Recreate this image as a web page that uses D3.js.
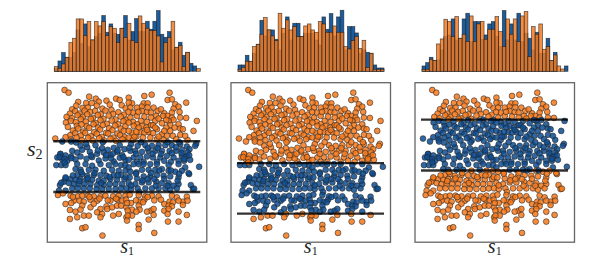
<!DOCTYPE html>
<html>
<head>
<meta charset="utf-8">
<script src="https://cdnjs.cloudflare.com/ajax/libs/d3/7.8.5/d3.min.js"></script>
<style>
    body { margin: 0; background: #fff; }
    svg { display: block; }
    text { font-family: "Liberation Serif", serif; fill: #222; }
</style>
</head>
<body>
<script>
// samples, [s1, s2], no units on the original so 0-480 is just the frame
const samples = [
    [52,458],[64,450],[126,438],[93,422],[117,419],[146,432],[155,423],[178,426],[207,432],[218,428],[188,414],[87,411],[75,400],[106,404],[122,405],[134,419],[149,411],[166,402],[193,398],[224,412],[236,403],[68,387],[84,394],[97,387],[112,396],[129,392],[144,395],[161,385],[175,396],[198,386],[214,391],[231,384],[58,377],[74,373],[91,382],[107,377],[120,385],[137,374],[152,383],[169,371],[185,381],[205,369],[221,378],[237,368],[56,360],[71,365],[86,361],[101,370],[116,363],[131,371],[146,358],[160,367],[179,356],[194,366],[213,355],[229,364],[62,347],[89,350],[103,354],[119,349],[139,355],[153,345],[167,352],[186,343],[204,351],[221,342],[235,349],[77,336],[93,342],[108,333],[126,344],[141,331],[159,339],[177,329],[196,337],[211,327],[230,335],[69,322],[84,328],[101,321],[114,329],[131,319],[149,326],[164,317],[183,327],[199,315],[219,322],[233,316],[24,312],[55,316],[71,309],[88,315],[104,307],[123,314],[137,306],[156,313],[171,306],[190,311],[207,305],[226,310],
    [75,275],[100,290],[120,286],[145,292],[165,283],[182,278],[200,284],[218,292],[232,280],[40,265],[45,250],[72,258],[90,270],[105,278],[128,272],[150,266],[170,270],[190,262],[210,272],[225,262],[85,249],[100,258],[118,251],[135,256],[155,246],[175,252],[200,243],[218,254],[235,247],[60,245],[30,255],[192,252],
    [368,450],[314,444],[292,440],[245,435],[362,428],[375,430],[418,420],[385,415],[395,408],[290,418],[302,418],[255,418],[245,420],[284,408],[320,405],[332,395],[380,402],[270,405],[250,405],[398,392],[375,390],[352,388],[285,395],[300,392],[258,390],[244,392],[312,390],[362,380],[348,380],[418,374],[400,375],[375,375],[328,380],[270,380],[250,375],[292,378],[312,375],[450,365],[380,368],[365,365],[282,365],[300,362],[325,365],[258,362],[245,360],[270,355],[312,352],[370,352],[395,355],[358,345],[330,340],[285,350],[260,350],[298,345],[400,342],[370,335],[280,332],[305,332],[292,330],[255,330],[318,328],[245,335],[345,325],[400,323],[378,320],[360,320],[268,318],[288,315],[310,315],[245,315],[330,310],[422,308],[258,308],[350,308],
    [342,400],[358,368],[335,372],[318,352],[345,358],[300,338],[275,345],[262,318],[335,318],[352,335],[383,345],[388,310],[408,340],[415,320],[440,335],[274,392],[302,406],[325,345],[268,332],
    [448,296],[252,295],[272,290],[295,292],[315,290],[335,292],[355,292],[375,292],[400,295],[420,288],[428,280],[250,275],[265,275],[285,272],[305,275],[325,275],[345,275],[368,275],[388,275],[405,278],[260,255],[280,255],[300,258],[318,255],[340,255],[360,260],[380,255],[405,260],[420,260],[245,248],[270,242],[290,242],[330,242],[352,245],[372,242],[395,245],[412,245],[430,248],
    [45,303],[39,266],[37,256],[55,261],[72,253],[52,251],[72,303],[87,300],[117,296],[167,301],[152,276],[132,261],[177,262],[197,266],[212,276],[229,256],[247,284],[267,266],[282,301],[302,283],[317,266],[332,283],[342,266],[362,301],[375,268],[387,286],[404,268],[422,270],[445,290],[397,301],[412,251],[427,262],
    [27,232],[42,232],[55,232],[90,235],[115,235],[135,230],[160,235],[185,232],[205,235],[222,232],[235,232],[85,220],[100,218],[125,218],[145,218],[170,215],[195,218],[215,215],[235,215],[105,205],[90,202],[120,200],[140,202],[160,202],[178,200],[200,202],[222,202],[55,192],[70,190],[85,188],[100,190],[118,188],[135,188],[155,185],[170,185],[190,190],[210,188],[232,190],[50,182],[65,178],[80,175],[95,175],[112,175],[130,175],[150,172],[170,172],[188,175],[205,175],[225,175],[38,172],[75,162],[92,162],[110,162],[128,162],[148,160],[165,160],[185,160],[205,160],[222,162],[238,162],[35,155],[55,155],
    [52,240],[102,211],[77,201],[42,179],[55,195],[97,184],[122,192],[142,208],[162,178],[187,196],[212,201],[237,196],
    [32,142],[70,140],[92,138],[105,140],[122,140],[140,138],[160,138],[175,140],[198,138],[215,140],[235,140],[80,125],[97,125],[110,122],[72,118],[55,115],[130,128],[150,125],[190,125],[212,128],[225,125],[105,110],[130,105],[178,108],[195,105],[210,110],[222,110],[68,97],[85,92],[100,98],[160,100],[180,100],[238,105],[150,90],[165,85],[215,85],[198,80],[110,80],[125,80],[90,75],[68,70],[160,75],[238,75],[105,42],[115,45],[166,20],
    [77,136],[127,136],[157,131],[182,126],[207,131],[237,128],[47,147],[140,116],
    [457,227],[245,225],[260,235],[275,235],[290,235],[310,235],[330,235],[365,232],[395,235],[415,225],[405,215],[427,205],[250,212],[268,210],[285,218],[305,218],[325,218],[345,220],[365,215],[385,212],[270,192],[248,195],[290,198],[310,198],[330,202],[350,200],[370,198],[395,195],[432,172],[438,160],[245,178],[265,175],[285,180],[305,180],[328,182],[345,178],[365,178],[395,175],[380,170],[252,160],[272,162],[295,162],[315,162],[335,162],[355,162],[370,158],[390,162],
    [267,206],[287,186],[312,208],[337,216],[352,191],[372,216],[397,206],[425,208],[442,161],[392,185],[362,170],[327,170],[277,151],[252,171],[302,190],[322,190],
    [248,143],[275,142],[295,138],[315,140],[335,138],[375,140],[390,135],[420,137],[292,128],[278,122],[408,122],[422,125],[252,118],[240,118],[288,120],[352,115],[368,122],[378,120],[395,125],[408,112],[275,110],[365,110],[375,108],[255,98],[278,98],[242,95],[268,92],[312,95],[352,95],[365,100],[395,92],[320,100],[300,92],[255,80],[242,80],[320,82],[362,85],[420,82],[305,68],[240,65],[363,62],[395,62],[275,52],[275,40],[322,28],
    [267,126],[302,136],[322,126],[342,128]
];

// lower and upper s2 bound of the blue band in each panel
const bandLow = [151, 86, 216];
const bandHigh = [304, 238, 369];

// marginal histograms, 40 bins per panel
const histBlue = [
    [9,31,56,42,42,56,124,84,142,74,94,104,114,167,117,142,114,111,129,167,94,119,158,119,119,150,126,150,182,111,102,119,64,72,87,48,57,24,16,0],
    [19,19,48,30,54,81,153,106,124,124,96,64,114,163,94,144,144,104,114,114,114,94,79,163,126,173,106,163,183,64,134,134,115,54,64,57,54,19,10,10],
    [16,26,42,32,34,64,104,109,157,94,99,157,174,89,149,149,96,109,142,149,104,74,182,94,142,94,174,89,114,99,64,117,54,54,99,32,57,0,0,16]
];
const histOrange = [
    [14,9,22,42,86,99,157,157,107,149,94,149,136,149,107,134,129,86,129,101,144,92,86,166,144,129,122,122,106,28,86,101,150,72,77,14,57,0,0,8],
    [6,12,30,30,74,81,111,161,124,106,92,174,129,154,124,134,104,104,136,142,124,117,149,142,117,117,136,117,117,74,67,92,104,68,93,11,54,6,6,6],
    [6,6,36,32,82,97,156,149,104,164,99,111,89,166,89,142,149,96,126,126,164,119,74,157,111,157,89,166,179,44,134,111,142,66,74,32,49,16,7,0]
];

const width = 598;
const height = 258;
const panelLefts = [47.3, 231, 415];
const panelSize = 159.5;
const panelTop = 82.7;
const histBase = 71.3;

const blue = '#0d4c90';
const orange = '#f5781a';

const svg = d3.select('body').append('svg').attr('width', width).attr('height', height);

panelLefts.forEach((left, p) => {
    const xScale = d3.scaleLinear().domain([0, 480]).range([left, left + panelSize]);
    const yScale = d3.scaleLinear().domain([0, 480]).range([panelTop + panelSize, panelTop]);

    // histogram on top
    const bins = d3.range(40);
    const xBand = d3.scaleBand().domain(bins).range([left + 7, left + 153]);
    const yHist = d3.scaleLinear().domain([0, 200]).range([histBase, histBase - 66.7]);

    [[histBlue[p], '#1b5c9e', 1], [histOrange[p], '#f27a22', 0.85]].forEach(([values, color, alpha]) => {
        svg.append('g').selectAll('rect')
            .data(values)
            .enter().append('rect')
            .attr('x', (d, i) => xBand(i))
            .attr('y', d => yHist(d))
            .attr('width', xBand.bandwidth())
            .attr('height', d => histBase - yHist(d))
            .attr('fill', color)
            .attr('fill-opacity', alpha)
            .attr('stroke', '#1a1a1a')
            .attr('stroke-opacity', 0.75)
            .attr('stroke-width', 0.7);
    });

    // frame
    svg.append('rect')
        .attr('x', left)
        .attr('y', panelTop)
        .attr('width', panelSize)
        .attr('height', panelSize)
        .attr('fill', '#fff')
        .attr('stroke', '#666')
        .attr('stroke-width', 1.3);

    const inBand = d => d[1] >= bandLow[p] && d[1] <= bandHigh[p];

    svg.append('g').selectAll('circle')
        .data(samples)
        .enter().append('circle')
        .attr('cx', d => xScale(d[0]))
        .attr('cy', d => yScale(d[1]))
        .attr('r', 2.9)
        .attr('fill', d => inBand(d) ? blue : orange)
        .attr('fill-opacity', 0.85)
        .attr('stroke', '#222')
        .attr('stroke-opacity', 0.7)
        .attr('stroke-width', 0.8);

    // band edges
    [bandLow[p], bandHigh[p]].forEach(v => {
        svg.append('line')
            .attr('x1', left + 6)
            .attr('x2', left + 153)
            .attr('y1', yScale(v))
            .attr('y2', yScale(v))
            .attr('stroke', '#000')
            .attr('stroke-opacity', 0.8)
            .attr('stroke-width', 2.4);
    });

    const label = svg.append('text')
        .attr('x', left + panelSize / 2)
        .attr('y', 253)
        .attr('text-anchor', 'middle')
        .attr('font-size', 20);
    label.append('tspan').attr('font-style', 'italic').text('s');
    label.append('tspan').attr('font-size', 12).attr('dy', 1.5).text('1');
});

const yLabel = svg.append('text')
    .attr('x', 27)
    .attr('y', 156)
    .attr('font-size', 22);
yLabel.append('tspan').attr('font-style', 'italic').text('s');
yLabel.append('tspan').attr('font-size', 14).attr('dy', 3).text('2');
</script>
</body>
</html>
